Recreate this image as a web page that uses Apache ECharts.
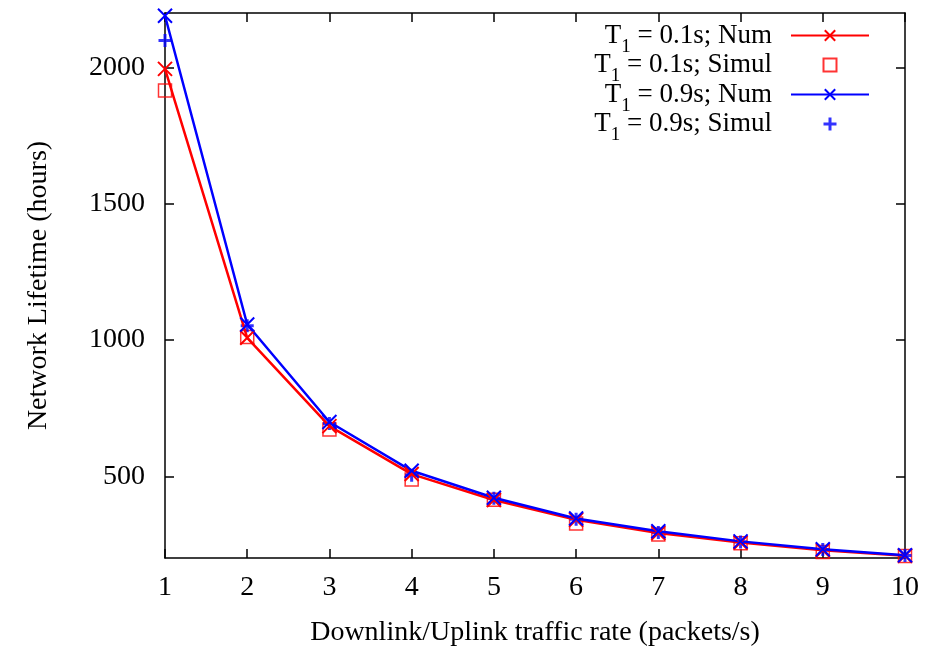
<!DOCTYPE html>
<html>
<head>
<meta charset="utf-8">
<title>Network Lifetime</title>
<script src="https://cdn.jsdelivr.net/npm/echarts@6/dist/echarts.min.js"></script>
<style>
  html, body { margin: 0; padding: 0; background: #fff; }
  #chart { width: 945px; height: 649px; }
</style>
</head>
<body>
<div id="chart"></div>
<script>
// traffic rate (packets/s)
const rates = [1, 2, 3, 4, 5, 6, 7, 8, 9, 10];
// network lifetime (hours)
const numT01 = [1995, 1008, 684, 508, 413, 340, 292, 257, 228, 208];
const simT01 = [1916, 1011, 672, 488, 414, 327, 286, 254, 222, 207];
const numT09 = [2190, 1057, 699, 520, 421, 345, 298, 261, 232, 210];
const simT09 = [2099, 1052, 694, 504, 419, 342, 294, 259, 231, 209];
const yTicks = [500, 1000, 1500, 2000];

const FONT = "Liberation Serif";
const crossPath = "path://M0,0L10,10M10,0L0,10";
const plusPath = "path://M5,0L5,10M0,5L10,5";
const squarePath = "path://M0,0L10,0L10,10L0,10Z";

const pairs = (ys) => rates.map((x, i) => [x, ys[i]]);

const chart = echarts.init(document.getElementById("chart"));

const axisLine = { lineStyle: { color: "#000", width: 1.5 } };
const tick = { inside: true, length: 9, lineStyle: { color: "#000", width: 1.5 } };

const option = {
  animation: false,
  backgroundColor: "#fff",
  textStyle: { fontFamily: FONT },
  grid: { left: 165, right: 40, top: 13, bottom: 91, outerBoundsMode: "none" },
  legend: {
    orient: "vertical",
    right: 75,
    top: 21,
    padding: 0,
    align: "right",
    itemWidth: 78,
    itemHeight: 13,
    itemGap: -6,
    textStyle: {
      fontFamily: FONT,
      fontSize: 27,
      color: "#000",
      lineHeight: 29,
      padding: [0, 14, 0, 0],
      rich: {
        sub: { fontFamily: FONT, fontSize: 19, padding: [23, 0, 0, 0], color: "#000" },
      },
    },
    formatter: (name) => name.replace("T1", "T{sub|1}"),
    data: [
      "T1 = 0.1s; Num",
      "T1 = 0.1s; Simul",
      "T1 = 0.9s; Num",
      { name: "T1 = 0.9s; Simul", itemStyle: { borderWidth: 3 } },
    ],
  },
  xAxis: [
    {
      type: "value",
      min: 1,
      max: 10,
      interval: 1,
      position: "bottom",
      axisLine: axisLine,
      axisTick: tick,
      splitLine: { show: false },
      axisLabel: { fontFamily: FONT, fontSize: 28, color: "#000", margin: 16 },
      name: "Downlink/Uplink traffic rate (packets/s)",
      nameLocation: "middle",
      nameGap: 61,
      nameTextStyle: { fontFamily: FONT, fontSize: 28, color: "#000" },
    },
    {
      type: "value",
      min: 1,
      max: 10,
      interval: 1,
      position: "top",
      axisLine: axisLine,
      axisTick: tick,
      splitLine: { show: false },
      axisLabel: { show: false },
    },
  ],
  yAxis: [
    {
      type: "value",
      min: 200,
      max: 2200,
      position: "left",
      axisLine: { show: true, lineStyle: { color: "#000", width: 1.5 } },
      axisTick: Object.assign({ customValues: yTicks }, tick),
      splitLine: { show: false },
      axisLabel: {
        customValues: yTicks,
        formatter: (v) => String(v),
        fontFamily: FONT,
        fontSize: 28,
        color: "#000",
        margin: 20,
      },
      name: "Network Lifetime (hours)",
      nameLocation: "middle",
      nameGap: 112,
      nameTextStyle: { fontFamily: FONT, fontSize: 28, color: "#000" },
    },
    {
      type: "value",
      min: 200,
      max: 2200,
      position: "right",
      axisLine: { show: true, lineStyle: { color: "#000", width: 1.5 } },
      axisTick: Object.assign({ customValues: yTicks }, tick),
      splitLine: { show: false },
      axisLabel: { show: false },
    },
  ],
  series: [
    {
      name: "T1 = 0.1s; Num",
      type: "line",
      data: pairs(numT01),
      symbol: crossPath,
      symbolSize: 14,
      showAllSymbol: true,
      lineStyle: { color: "#ff0000", width: 2.5 },
      itemStyle: { color: "#ff0000", borderColor: "#ff0000", borderWidth: 2 },
    },
    {
      name: "T1 = 0.1s; Simul",
      type: "scatter",
      data: pairs(simT01),
      symbol: squarePath,
      symbolSize: 13,
      itemStyle: { color: "rgba(255,255,255,0)", borderColor: "#ff0000", borderWidth: 1.5 },
    },
    {
      name: "T1 = 0.9s; Num",
      type: "line",
      data: pairs(numT09),
      symbol: crossPath,
      symbolSize: 14,
      showAllSymbol: true,
      lineStyle: { color: "#0000ff", width: 2.5 },
      itemStyle: { color: "#0000ff", borderColor: "#0000ff", borderWidth: 2 },
    },
    {
      name: "T1 = 0.9s; Simul",
      type: "scatter",
      data: pairs(simT09),
      symbol: plusPath,
      symbolSize: 13,
      itemStyle: { color: "#0000ff", borderColor: "#0000ff", borderWidth: 3 },
    },
  ],
};

chart.setOption(option);
</script>
</body>
</html>
